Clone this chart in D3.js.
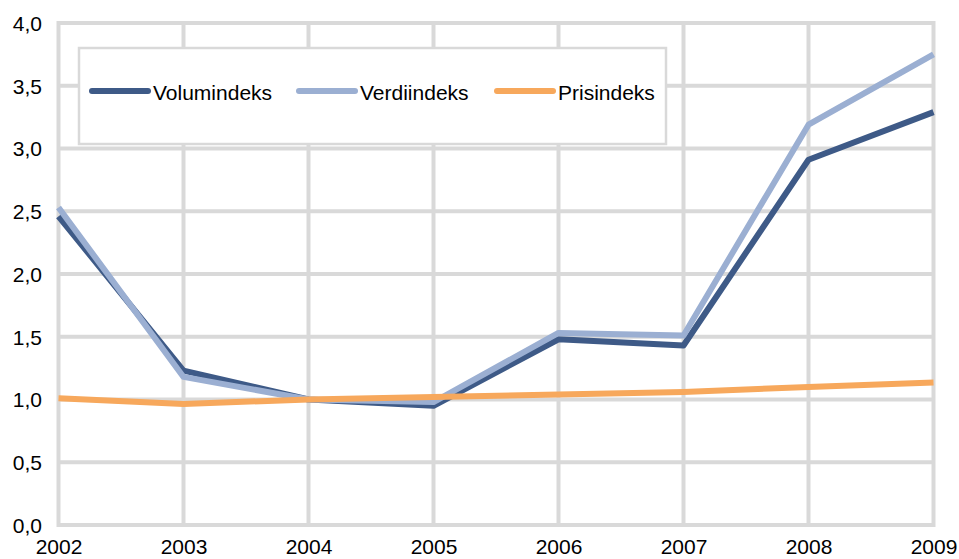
<!DOCTYPE html>
<html><head><meta charset="utf-8">
<script src="https://cdn.jsdelivr.net/npm/d3@7"></script>
<style>body{margin:0;background:#fff}svg{display:block}</style>
</head><body><svg id="c" width="959" height="559"></svg>
<script>
const years = ["2002","2003","2004","2005","2006","2007","2008","2009"];
const volumindeks = [2.46, 1.23, 1.00, 0.95, 1.48, 1.43, 2.91, 3.29];
const verdiindeks = [2.53, 1.18, 1.00, 0.98, 1.53, 1.51, 3.19, 3.75];
const prisindeks  = [1.01, 0.965, 1.00, 1.02, 1.04, 1.06, 1.10, 1.135];
const yTicks = [0, 0.5, 1.0, 1.5, 2.0, 2.5, 3.0, 3.5, 4.0];
const seriesNames = ["Volumindeks", "Verdiindeks", "Prisindeks"];
const colors = ["#3e5a87", "#9bafd2", "#f7a85c"];

const svg = d3.select("#c");
const x = d3.scalePoint().domain(years).range([58.5, 933.5]);
const y = d3.scaleLinear().domain([0, 4]).range([525, 23]);
const font = "'Liberation Sans', Arial, sans-serif";
const grid = "#d9d9d9";

// horizontal grid
svg.append("g").selectAll("line").data(yTicks).join("line")
  .attr("x1", x("2002")).attr("x2", x("2009"))
  .attr("y1", d => y(d)).attr("y2", d => y(d))
  .attr("stroke", grid).attr("stroke-width", 4);
// vertical grid
svg.append("g").selectAll("line").data(years).join("line")
  .attr("x1", d => x(d)).attr("x2", d => x(d))
  .attr("y1", y(4) - 2).attr("y2", y(0) + 2)
  .attr("stroke", grid).attr("stroke-width", 4);

// y axis labels
const yAxis = d3.axisLeft(y).tickValues(yTicks).tickSize(0).tickPadding(0)
  .tickFormat(d => d3.format(".1f")(d).replace(".", ","));
const ya = svg.append("g").attr("transform", "translate(42,0)").call(yAxis);
ya.select(".domain").remove();
ya.selectAll("text").attr("font-family", font).attr("font-size", 21).attr("fill", "#000").attr("dy", "0.35em");

// x axis labels
const xAxis = d3.axisBottom(x).tickSize(0).tickPadding(0);
const xa = svg.append("g").attr("transform", "translate(0,554)").call(xAxis);
xa.select(".domain").remove();
xa.selectAll("text").attr("font-family", font).attr("font-size", 21).attr("fill", "#000").attr("y", 0).attr("dy", "0");

// lines
const line = d3.line().x((d, i) => x(years[i])).y(d => y(d));
const allSeries = [volumindeks, verdiindeks, prisindeks];
svg.append("g").selectAll("path").data(allSeries).join("path")
  .attr("d", d => line(d)).attr("fill", "none")
  .attr("stroke", (d, i) => colors[i]).attr("stroke-width", 6)
  .attr("stroke-linejoin", "round");

// legend
const lg = svg.append("g");
lg.append("rect").attr("x", 79).attr("y", 48).attr("width", 587).attr("height", 96)
  .attr("fill", "#fff").attr("stroke", grid).attr("stroke-width", 2.5);
const lx = [92, 299, 497];
seriesNames.forEach((n, i) => {
  lg.append("line").attr("x1", lx[i]).attr("x2", lx[i] + 56).attr("y1", 91).attr("y2", 91)
    .attr("stroke", colors[i]).attr("stroke-width", 6).attr("stroke-linecap", "round");
  lg.append("text").attr("x", lx[i] + 61).attr("y", 100)
    .attr("font-family", font).attr("font-size", 21).attr("fill", "#000").text(n);
});
</script></body></html>
